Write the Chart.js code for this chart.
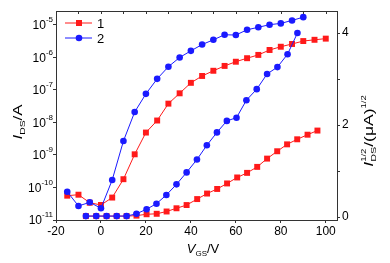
<!DOCTYPE html>
<html>
<head>
<meta charset="utf-8">
<script src="https://cdn.jsdelivr.net/npm/chart.js@4.4.0/dist/chart.umd.min.js"></script>
<style>
  html, body { margin: 0; padding: 0; background: #fff; }
  #wrap { width: 390px; height: 263px; }
</style>
</head>
<body>
<div id="wrap"><canvas id="chart"></canvas></div>
<script>
// данные

const vgsLog1 = [-15, -10, -5, 0, 5, 10, 15, 20, 25, 30, 35, 40, 45, 50, 55, 60, 65, 70, 75, 80, 85, 90, 95, 100];
const idsLog1 = [5.6e-11, 6.0e-11, 3.4e-11, 2.9e-11, 4.9e-11, 1.8e-10, 1.05e-9, 4.9e-9, 1.15e-8, 3.8e-8, 7.9e-8, 1.66e-7,
  2.7e-7, 3.9e-7, 5.5e-7, 7.4e-7, 9.5e-7, 1.2e-6, 1.7e-6, 2.14e-6, 2.6e-6, 3.2e-6, 3.5e-6, 3.8e-6];

const vgsLog2 = [-15, -10, -5, 0, 5, 10, 15, 20, 25, 30, 35, 40, 45, 50, 55, 60, 65, 70, 75, 80, 85, 90];
const idsLog2 = [7.4e-11, 2.7e-11, 3.5e-11, 2.3e-11, 1.7e-10, 2.7e-9, 2.1e-8, 7.6e-8, 2.2e-7, 5.2e-7, 1.0e-6, 1.6e-6,
  2.5e-6, 3.5e-6, 5.0e-6, 4.9e-6, 7.1e-6, 8.5e-6, 1.02e-5, 1.12e-5, 1.38e-5, 1.74e-5];

const vgsSqrt1 = [-6.7, -2.1, 2.5, 7.0, 11.4, 15.8, 20.3, 24.8, 29.2, 33.6, 38.1, 42.8, 47.2, 51.7, 56.1, 60.6, 65.0,
  69.5, 73.9, 78.4, 82.8, 87.3, 91.9, 96.3];
const sqrtIds1 = [0.02, 0.02, 0.02, 0.02, 0.02, 0.03, 0.06, 0.07, 0.12, 0.19, 0.26, 0.39, 0.51, 0.61, 0.73, 0.86, 0.96,
  1.09, 1.27, 1.43, 1.58, 1.69, 1.79, 1.88];

const vgsSqrt2 = [-6.7, -2.1, 2.5, 7.0, 11.4, 15.8, 20.3, 24.7, 29.1, 33.6, 38.1, 42.7, 47.1, 51.6, 56.0, 60.3, 64.7,
  69.3, 73.9, 78.5, 83.0, 87.4];
const sqrtIds2 = [0.02, 0.02, 0.02, 0.02, 0.02, 0.07, 0.17, 0.29, 0.48, 0.71, 0.97, 1.25, 1.56, 1.84, 2.09, 2.16, 2.54,
  2.78, 3.11, 3.26, 3.54, 4.0];

const xTicks = [-20, 0, 20, 40, 60, 80, 100];
const logExps = [-11, -10, -9, -8, -7, -6, -5];
const rightTicks = [0, 1, 2, 3, 4];
const seriesNames = ["1", "2"];

const RED = "#ff1a1a";
const BLUE = "#1a1aff";
const AXIS = "#333333";
const FONT = "'Liberation Sans', Arial, sans-serif";

function pts(xs, ys) {
  return xs.map((x, i) => ({ x: x, y: ys[i] }));
}

function lineSet(label, xs, ys, axis, color, style, r) {
  return {
    label: label,
    data: pts(xs, ys),
    yAxisID: axis,
    borderColor: color,
    backgroundColor: color,
    borderWidth: 1,
    pointStyle: style,
    pointRadius: r,
    pointBorderWidth: 0,
    pointBackgroundColor: color,
    tension: 0,
  };
}

// текст с индексами (stretch - растяжка вдоль строки)
function richText(ctx, parts, x, y, angle, stretch) {
  ctx.save();
  ctx.translate(x, y);
  ctx.rotate(angle);
  ctx.scale(stretch || 1, 1);
  ctx.textBaseline = "alphabetic";
  ctx.textAlign = "left";
  let w = 0;
  parts.forEach((p) => {
    ctx.font = (p.italic ? "italic " : "") + p.size + "px " + FONT;
    p.w = ctx.measureText(p.t).width;
    if (!p.stack) w += p.w;
  });
  let cx = -w / 2;
  parts.forEach((p) => {
    ctx.font = (p.italic ? "italic " : "") + p.size + "px " + FONT;
    ctx.fillStyle = "#000";
    ctx.fillText(p.t, cx, p.dy || 0);
    if (!p.stack) cx += p.w;
  });
  ctx.restore();
}

const decor = {
  id: "decor",
  afterDraw(chart) {
    const ctx = chart.ctx;
    const a = chart.chartArea;

    // рамка
    ctx.save();
    ctx.strokeStyle = AXIS;
    ctx.lineWidth = 1;
    ctx.beginPath();
    ctx.moveTo(a.left, a.top + 0.5);
    ctx.lineTo(a.right, a.top + 0.5);
    ctx.stroke();
    // засечки сверху
    const sx = chart.scales.x;
    for (let v = -10; v <= 100; v += 10) {
      const px = Math.round(sx.getPixelForValue(v)) + 0.5;
      ctx.beginPath();
      ctx.moveTo(px, a.top);
      ctx.lineTo(px, a.top + 3);
      ctx.stroke();
    }
    ctx.restore();

    // подписи лог оси
    const yL = chart.scales.yL;
    ctx.save();
    ctx.fillStyle = "#000";
    ctx.textBaseline = "middle";
    logExps.forEach((e) => {
      const py = yL.getPixelForValue(Math.pow(10, e));
      ctx.font = "8px " + FONT;
      const ew = ctx.measureText(String(e)).width;
      ctx.textAlign = "right";
      ctx.fillText(String(e), a.left - 3, py - 5);
      ctx.font = "12px " + FONT;
      ctx.fillText("10", a.left - 3 - ew, py + 1);
    });
    ctx.restore();

    // заголовки осей
    richText(ctx, [
      { t: "V", size: 13, italic: true },
      { t: "GS", size: 8, dy: 3 },
      { t: "/V", size: 13 },
    ], 203, 253, 0);

    richText(ctx, [
      { t: "I", size: 13, italic: true },
      { t: "DS", size: 8, dy: 3 },
      { t: "/A", size: 13 },
    ], 22, 122, -Math.PI / 2, 1.3);

    richText(ctx, [
      { t: "I", size: 13, italic: true },
      { t: "1/2", size: 7, dy: -7, stack: true },
      { t: "DS", size: 8, dy: 3 },
      { t: "/(μA)", size: 13 },
      { t: "1/2", size: 7, dy: -7 },
    ], 373, 131, -Math.PI / 2, 1.35);

    // легенда
    const items = [
      { name: seriesNames[0], color: RED, style: "rect", y: 23 },
      { name: seriesNames[1], color: BLUE, style: "circle", y: 38 },
    ];
    ctx.save();
    items.forEach((it) => {
      ctx.strokeStyle = it.color;
      ctx.fillStyle = it.color;
      ctx.lineWidth = 1;
      ctx.beginPath();
      ctx.moveTo(65, it.y);
      ctx.lineTo(92, it.y);
      ctx.stroke();
      if (it.style === "rect") {
        ctx.fillRect(76, it.y - 3, 6, 6);
      } else {
        ctx.beginPath();
        ctx.arc(79, it.y, 3.3, 0, Math.PI * 2);
        ctx.fill();
      }
      ctx.fillStyle = "#000";
      ctx.font = "13px " + FONT;
      ctx.textAlign = "left";
      ctx.textBaseline = "middle";
      ctx.fillText(it.name, 97, it.y + 1);
    });
    ctx.restore();
  },
};

const ctx = document.getElementById("chart");

new Chart(ctx, {
  type: "line",
  data: {
    datasets: [
      lineSet("2", vgsLog2, idsLog2, "yL", BLUE, "circle", 3.3),
      lineSet("2s", vgsSqrt2, sqrtIds2, "yR", BLUE, "circle", 3.3),
      lineSet("1", vgsLog1, idsLog1, "yL", RED, "rect", 4.2),
      lineSet("1s", vgsSqrt1, sqrtIds1, "yR", RED, "rect", 4.2),
    ],
  },
  options: {
    responsive: true,
    maintainAspectRatio: false,
    animation: false,
    layout: {
      padding: { top: 11, left: 0, right: 0, bottom: 0 },
    },
    plugins: {
      legend: { display: false },
      tooltip: { enabled: false },
    },
    scales: {
      x: {
        type: "linear",
        position: "bottom",
        min: -20,
        max: 105,
        afterBuildTicks: (s) => {
          s.ticks = xTicks.map((v) => ({ value: v }));
        },
        afterFit: (s) => {
          s.height = 43;
        },
        grid: {
          drawOnChartArea: false,
          drawTicks: true,
          tickLength: 3,
          color: AXIS,
        },
        border: { display: true, color: AXIS, width: 1 },
        ticks: {
          color: "#000",
          padding: 1,
          maxRotation: 0,
          font: { family: FONT, size: 12 },
        },
      },
      yL: {
        type: "logarithmic",
        position: "left",
        min: 1e-11,
        max: Math.pow(10, -4.57),
        afterBuildTicks: (s) => {
          s.ticks = logExps.map((e) => ({ value: Math.pow(10, e) }));
        },
        afterFit: (s) => {
          s.width = 56;
        },
        grid: {
          drawOnChartArea: false,
          tickLength: 3,
          color: AXIS,
        },
        border: { display: true, color: AXIS, width: 1 },
        ticks: { display: false },
      },
      yR: {
        type: "linear",
        position: "right",
        min: -0.065,
        max: 4.48,
        afterBuildTicks: (s) => {
          s.ticks = rightTicks.map((v) => ({ value: v }));
        },
        afterFit: (s) => {
          s.width = 53;
        },
        grid: {
          drawOnChartArea: false,
          tickLength: 3,
          color: AXIS,
        },
        border: { display: true, color: AXIS, width: 1 },
        ticks: {
          color: "#000",
          padding: 2,
          font: { family: FONT, size: 12 },
          callback: (v) => (v % 2 === 0 ? String(v) : ""),
        },
      },
    },
  },
  plugins: [decor],
});
</script>
</body>
</html>
